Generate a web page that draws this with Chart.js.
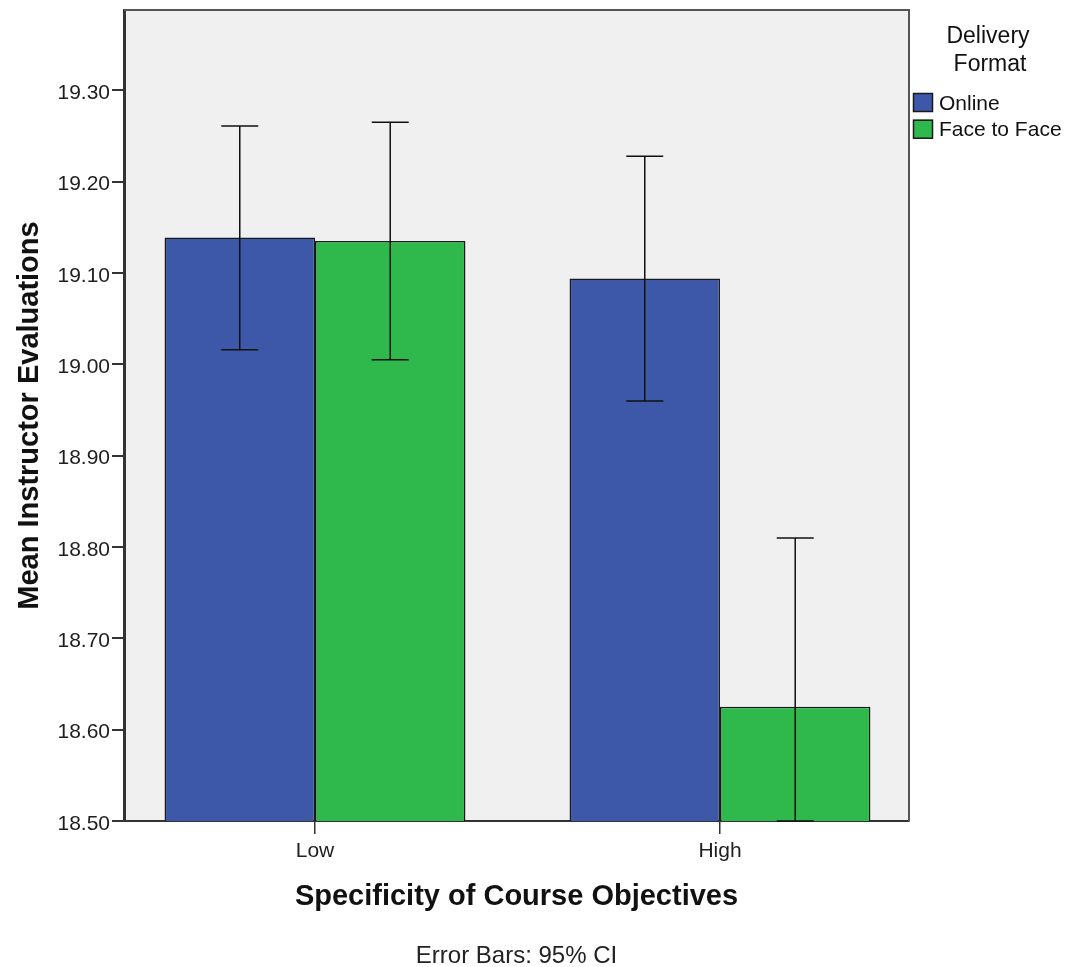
<!DOCTYPE html>
<html>
<head>
<meta charset="utf-8">
<script src="https://cdn.jsdelivr.net/npm/chart.js@4.4.1/dist/chart.umd.min.js"></script>
<style>
  html, body { margin: 0; padding: 0; background: #ffffff; }
  #wrap { width: 1068px; height: 967px; }
</style>
</head>
<body>
<div id="wrap"><canvas id="c" width="1068" height="967"></canvas></div>
<script>
// ---- data ----
const categories = ['Low', 'High'];
const seriesNames = ['Online', 'Face to Face'];
const onlineMeans = [19.139, 19.094];
const f2fMeans = [19.135, 18.625];
const onlineCILow = [19.016, 18.960];
const onlineCIHigh = [19.261, 19.228];
const f2fCILow = [19.005, 18.440];
const f2fCIHigh = [19.265, 18.810];
const yTicks = [18.5, 18.6, 18.7, 18.8, 18.9, 19.0, 19.1, 19.2, 19.3];
const yMin = 18.5;
const yMax = 19.388;
const xTitle = 'Specificity of Course Objectives';
const yTitle = 'Mean Instructor Evaluations';
const noteText = 'Error Bars: 95% CI';
const legendTitle = ['Delivery', 'Format'];

const colors = ['#3d58a9', '#2fb84b'];

const datasets = [
  { label: seriesNames[0], data: categories.map((c, i) => ({ x: i, y: onlineMeans[i] })),
    ciLow: onlineCILow, ciHigh: onlineCIHigh, backgroundColor: colors[0] },
  { label: seriesNames[1], data: categories.map((c, i) => ({ x: i, y: f2fMeans[i] })),
    ciLow: f2fCILow, ciHigh: f2fCIHigh, backgroundColor: colors[1] }
].map(d => Object.assign(d, { borderColor: '#1a1a1a', borderWidth: 1.5, borderSkipped: false }));

const FONT = '"Liberation Sans", Arial, sans-serif';

const plotBg = {
  id: 'plotBg',
  beforeDraw(chart) {
    const { ctx, chartArea: a } = chart;
    ctx.save();
    ctx.fillStyle = '#f0f0f0';
    ctx.fillRect(a.left, a.top, a.right - a.left, a.bottom - a.top);
    ctx.restore();
  },
  afterDraw(chart) {
    const { ctx, chartArea: a } = chart;
    ctx.save();
    ctx.strokeStyle = '#555555';
    ctx.lineWidth = 2;
    ctx.beginPath();
    ctx.moveTo(a.left, a.top);
    ctx.lineTo(a.right, a.top);
    ctx.lineTo(a.right, a.bottom);
    ctx.stroke();
    ctx.restore();
  }
};

const errorBars = {
  id: 'errorBars',
  afterDatasetsDraw(chart) {
    const { ctx, chartArea: a } = chart;
    const ys = chart.scales.y;
    ctx.save();
    ctx.strokeStyle = '#111111';
    ctx.lineWidth = 1.5;
    chart.data.datasets.forEach((ds, di) => {
      const meta = chart.getDatasetMeta(di);
      meta.data.forEach((bar, i) => {
        const x = bar.x;
        const clamp = v => Math.max(a.top, Math.min(a.bottom, v));
        const yH = clamp(ys.getPixelForValue(ds.ciHigh[i]));
        const yL = clamp(ys.getPixelForValue(ds.ciLow[i]));
        const cap = 18.5;
        ctx.beginPath();
        ctx.moveTo(x, yH); ctx.lineTo(x, yL);
        ctx.moveTo(x - cap, yH); ctx.lineTo(x + cap, yH);
        ctx.moveTo(x - cap, yL); ctx.lineTo(x + cap, yL);
        ctx.stroke();
      });
    });
    ctx.restore();
  }
};

const texts = {
  id: 'texts',
  afterDraw(chart) {
    const { ctx, chartArea: a } = chart;
    ctx.save();
    ctx.fillStyle = '#111111';
    // x title
    ctx.font = 'bold 29px ' + FONT;
    ctx.textAlign = 'center';
    ctx.textBaseline = 'alphabetic';
    ctx.fillText(xTitle, (a.left + a.right) / 2, 905);
    // note
    ctx.font = '24px ' + FONT;
    ctx.fillStyle = '#222222';
    ctx.fillText(noteText, (a.left + a.right) / 2, 963);
    // y title
    ctx.save();
    ctx.fillStyle = '#111111';
    ctx.font = 'bold 29px ' + FONT;
    ctx.translate(38, (a.top + a.bottom) / 2);
    ctx.rotate(-Math.PI / 2);
    ctx.textAlign = 'center';
    ctx.fillText(yTitle, 0, 0);
    ctx.restore();
    // legend
    ctx.fillStyle = '#111111';
    ctx.font = '23px ' + FONT;
    ctx.textAlign = 'center';
    ctx.textBaseline = 'middle';
    ctx.fillText(legendTitle[0], 988, 37);
    ctx.fillText(legendTitle[1], 990, 65);
    ctx.font = '21px ' + FONT;
    ctx.textAlign = 'left';
    chart.data.datasets.forEach((ds, i) => {
      const y = 93 + i * 26.7;
      ctx.fillStyle = ds.backgroundColor;
      ctx.fillRect(913, y, 20, 19);
      ctx.strokeStyle = '#1a1a1a';
      ctx.lineWidth = 1.5;
      ctx.strokeRect(913.5, y + 0.5, 19, 18);
      ctx.fillStyle = '#111111';
      ctx.fillText(ds.label, 939, y + 11);
    });
    ctx.restore();
  }
};

new Chart(document.getElementById('c'), {
  type: 'bar',
  data: { datasets },
  options: {
    responsive: false,
    animation: false,
    events: [],
    layout: { padding: { left: 0, top: 10, right: 159, bottom: 0 } },
    datasets: { bar: { categoryPercentage: 0.743, barPercentage: 1.0 } },
    plugins: { legend: { display: false }, tooltip: { enabled: false } },
    scales: {
      x: {
        type: 'linear',
        offset: false,
        min: -0.4716,
        max: 1.4667,
        afterBuildTicks(scale) { scale.ticks = categories.map((c, i) => ({ value: i })); },
        afterFit(scale) { scale.height = 146; scale.paddingLeft = 0; scale.paddingRight = 0; },
        ticks: {
          callback: v => categories[v],
          font: { family: FONT, size: 21 },
          color: '#1e1e1e',
          padding: 5,
          maxRotation: 0,
          autoSkip: false
        },
        grid: { offset: false, drawOnChartArea: false, tickLength: 13, color: '#333333', lineWidth: 1.5 },
        border: { display: true, color: '#333333', width: 2 }
      },
      y: {
        type: 'linear',
        min: yMin,
        max: yMax,
        afterBuildTicks(scale) { scale.ticks = yTicks.map(v => ({ value: v })); },
        afterFit(scale) { scale.width = 124; scale.paddingTop = 0; scale.paddingBottom = 0; },
        ticks: {
          callback: v => Number(v).toFixed(2),
          font: { family: FONT, size: 21 },
          color: '#1e1e1e',
          padding: 2,
          labelOffset: 3,
          autoSkip: false
        },
        grid: { drawOnChartArea: false, tickLength: 12, color: '#333333', lineWidth: 2 },
        border: { display: true, color: '#333333', width: 3 }
      }
    }
  },
  plugins: [plotBg, errorBars, texts]
});
</script>
</body>
</html>
